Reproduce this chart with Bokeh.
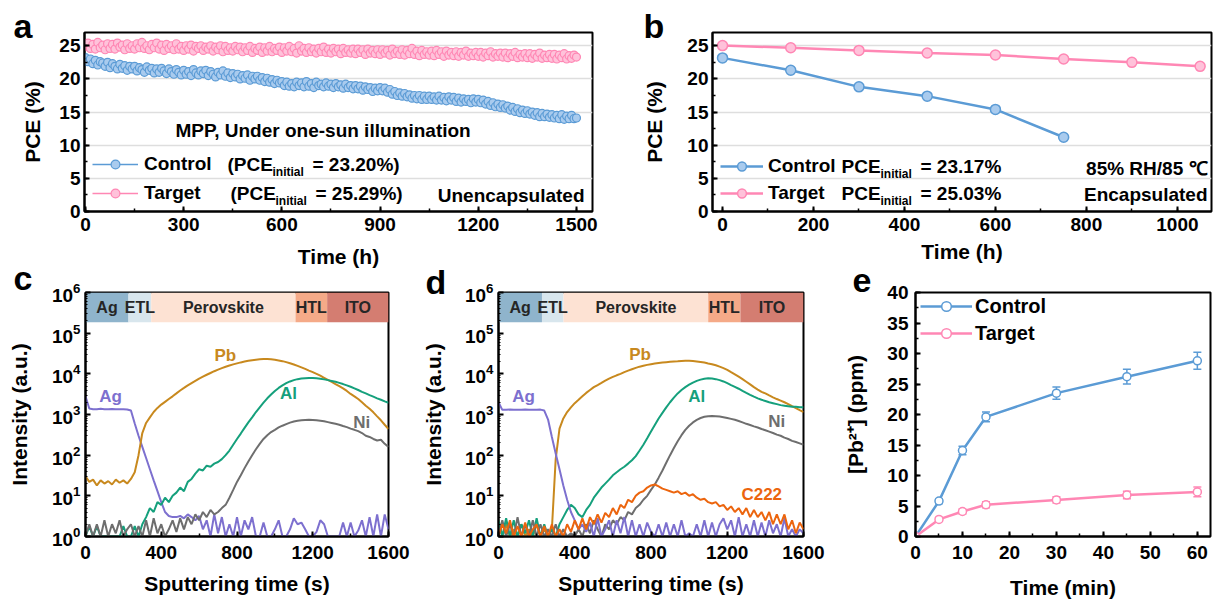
from bokeh.plotting import figure
from bokeh.models import (Range1d, Label, Legend, LegendItem, ColumnDataSource,
                          Whisker, TeeHead, SingleIntervalTicker, GridBox)
from bokeh.layouts import row, column
from bokeh.embed import file_html
from bokeh.resources import INLINE
from bokeh.core.properties import value

FONT = "Liberation Sans"
BLUE = "#5b9bd5"
BLUE_L = "#a9cbee"
PINK = "#ff87b4"
PINK_L = "#ffc2da"

# ---------------- data ----------------
# panel a: MPP tracking (time in h, PCE in %), one reading every 7.5 h
a_time = [i * 7.5 for i in range(201)]
a_control = [23.2, 22.6, 23.0, 22.3, 22.8, 22.1, 22.6, 22.4, 21.9, 22.5,
             21.7, 22.3, 21.9, 21.5, 22.2, 21.6, 22.0, 21.3, 21.9, 21.5,
             21.9, 21.2, 21.7, 21.4, 21.0, 21.8, 21.3, 21.6, 20.9, 21.5,
             21.0, 21.6, 21.2, 20.8, 21.5, 21.1, 20.7, 21.4, 21.0, 20.6,
             21.3, 20.7, 21.1, 20.5, 21.4, 20.9, 20.6, 21.2, 20.8, 21.3,
             20.5, 21.1, 20.7, 20.3, 21.0, 20.6, 21.2, 20.4, 20.9, 20.2,
             20.8, 20.3, 20.7, 20.0, 20.5, 20.1, 20.6, 19.8, 20.4, 20.0,
             20.4, 19.8, 20.2, 19.6, 20.1, 19.5, 19.9, 19.3, 19.8, 19.4,
             19.6, 19.0, 19.5, 18.9, 19.3, 18.8, 19.5, 19.0, 19.4, 18.8,
             19.6, 18.9, 19.3, 18.7, 19.5, 19.0, 19.2, 18.8, 19.4, 18.9,
             19.2, 18.7, 19.3, 18.8, 19.1, 18.6, 19.2, 18.7, 19.0, 18.5,
             19.0, 18.5, 18.9, 18.3, 18.8, 18.4, 18.7, 18.1, 18.6, 18.2,
             18.7, 18.2, 18.6, 18.0, 18.4, 17.7, 18.1, 17.5, 17.9, 17.4,
             17.8, 17.3, 17.6, 17.1, 17.5, 17.0, 17.5, 16.9, 17.4, 16.9,
             17.4, 16.9, 17.3, 16.8, 17.4, 16.8, 17.2, 16.7, 17.3, 16.8,
             17.2, 16.6, 17.1, 16.5, 17.0, 16.6, 16.9, 16.4, 17.0, 16.5,
             16.9, 16.4, 16.8, 16.2, 16.6, 16.0, 16.4, 15.8, 16.2, 15.7,
             16.1, 15.6, 15.9, 15.3, 15.7, 15.1, 15.5, 14.9, 15.3, 14.8,
             15.2, 14.7, 15.0, 14.5, 14.9, 14.3, 14.8, 14.3, 14.7, 14.2,
             14.6, 14.1, 14.5, 14.0, 14.6, 13.9, 14.4, 14.0, 14.5, 14.0,
             14.1]
a_target = [24.9, 25.4, 24.6, 25.2, 24.5, 25.5, 24.7, 25.1, 24.4, 25.3,
            24.6, 25.2, 24.5, 25.4, 24.8, 25.1, 24.4, 25.3, 24.6, 25.0,
            24.5, 25.3, 24.7, 25.5, 24.6, 25.0, 24.4, 25.2, 24.7, 25.4,
            24.5, 25.1, 24.3, 25.2, 24.6, 25.0, 24.4, 25.3, 24.5, 24.9,
            24.3, 25.0, 24.5, 25.1, 24.2, 24.9, 24.6, 25.0, 24.3, 24.8,
            24.5, 25.0, 24.2, 24.8, 24.4, 25.0, 24.1, 24.9, 24.3, 24.7,
            24.2, 24.9, 24.4, 24.8, 24.1, 24.7, 24.3, 24.9, 24.0, 24.6,
            24.3, 24.8, 24.0, 24.7, 24.2, 24.9, 24.1, 24.6, 24.3, 24.8,
            24.0, 24.7, 24.2, 24.9, 24.1, 24.6, 23.9, 25.0, 24.2, 24.6,
            24.0, 24.7, 24.1, 24.5, 23.9, 24.6, 24.1, 24.8, 24.0, 24.5,
            23.9, 24.6, 24.1, 24.5, 23.8, 24.6, 24.0, 24.4, 23.9, 24.5,
            23.8, 24.5, 24.0, 24.4, 23.7, 24.5, 23.9, 24.3, 23.8, 24.4,
            23.7, 24.4, 23.9, 24.3, 23.6, 24.5, 23.8, 24.2, 23.7, 24.4,
            23.6, 24.3, 23.8, 24.6, 23.7, 24.2, 23.5, 24.3, 23.7, 24.1,
            23.6, 24.2, 23.5, 24.3, 23.7, 24.1, 23.4, 24.2, 23.6, 24.0,
            23.5, 24.1, 23.4, 24.0, 23.6, 24.2, 23.4, 23.9, 23.5, 24.0,
            23.4, 24.0, 23.3, 23.9, 23.5, 24.1, 23.3, 23.8, 23.4, 23.9,
            23.3, 23.9, 23.2, 23.8, 23.4, 24.0, 23.2, 23.7, 23.3, 23.8,
            23.2, 23.8, 23.1, 23.7, 23.3, 23.9, 23.1, 23.6, 23.2, 23.7,
            23.1, 23.7, 23.0, 23.6, 23.2, 23.8, 23.0, 23.5, 23.1, 23.6,
            23.3]

# panel b: damp heat (85% RH / 85 C)
b_time_control = [0, 150, 300, 450, 600, 750]
b_control = [23.17, 21.3, 18.8, 17.4, 15.4, 11.2]
b_time_target = [0, 150, 300, 450, 600, 750, 900, 1050]
b_target = [25.03, 24.7, 24.3, 23.9, 23.6, 23.0, 22.5, 21.9]

# panels c, d: ToF-SIMS depth profiles (sputtering time in s)
sims_time = list(range(0, 1601, 20))
layer_names = ["Ag", "ETL", "Perovskite", "HTL", "ITO"]
layer_colors = ["#8fb4cc", "#d8e6ed", "#fde2d3", "#f5aa88", "#d47d71"]
layer_edges_c = [0, 227, 347, 1109, 1276, 1600]
layer_edges_d = [0, 228, 341, 1100, 1269, 1600]

c_Pb = [30, 22, 25, 18, 24, 20, 23, 19, 25, 21,
        24, 20, 26, 38, 100, 350, 620, 850, 1150, 1450,
        1750, 2050, 2400, 2800, 3300, 3900, 4500, 5200, 5900, 6700,
        7600, 8500, 9500, 10500, 11600, 12700, 13800, 14900, 16000, 17100,
        18100, 19100, 20000, 20900, 21700, 22300, 22800, 23100, 23100, 22800,
        22200, 21400, 20500, 19400, 18200, 17000, 15700, 14400, 13200, 12000,
        11000, 10000, 9000, 8000, 7100, 6300, 5600, 5000, 4400, 3800,
        3200, 2800, 2400, 2000, 1650, 1380, 1130, 900, 720, 560,
        440]
c_Ag = [2800, 1400, 1350, 1350, 1380, 1350, 1350, 1360, 1350, 1340,
        1350, 1330, 1250, 600, 300, 160, 85, 45, 24, 13,
        7, 4, 3.2, 3, 3, 3.2, 2.8, 3.5, 3, 2.5,
        3.2, 1.5, 2.5, 1, 3.5, 1.2, 3, 1, 2, 1,
        3, 1, 2.5, 1.5, 3, 1, 1, 2.2, 1, 1,
        1.5, 2.5, 1, 1, 1.5, 2.8, 2, 2.2, 1.5, 1,
        1, 1.3, 2.5, 2, 1, 1, 1, 1, 2.2, 1,
        2.2, 1, 1.4, 2.5, 1, 3, 1, 3.5, 1, 3.5,
        1.5]
c_Al = [1, 1.8, 1, 1.8, 1, 1, 1, 1, 1, 1,
        1.8, 1, 1, 1.8, 1, 2, 3, 5, 4, 7,
        6, 9, 7, 10, 12, 16, 13, 22, 26, 35,
        45, 42, 55, 52, 62, 68, 80, 100, 130, 180,
        250, 340, 470, 640, 850, 1150, 1500, 1950, 2500, 3100,
        3800, 4500, 5200, 5900, 6500, 7000, 7400, 7700, 7800, 7900,
        7900, 7800, 7600, 7300, 7000, 6700, 6400, 6000, 5600, 5200,
        4800, 4400, 4000, 3600, 3300, 3000, 2750, 2500, 2300, 2100,
        1950]
c_Ni = [1, 2, 1, 2, 1, 2.5, 1, 2, 1.2, 2.5,
        1, 1.5, 2, 1, 1.8, 1, 2.5, 1, 2.8, 1.2,
        2, 1, 1.5, 2.5, 1.3, 2.8, 1.5, 3, 2, 3.5,
        2.5, 4, 3, 4.5, 3.5, 4, 5, 6, 9, 14,
        22, 32, 48, 70, 100, 140, 190, 250, 310, 370,
        420, 480, 530, 580, 630, 670, 700, 720, 730, 740,
        730, 720, 700, 680, 650, 620, 590, 560, 520, 490,
        450, 420, 390, 350, 300, 280, 250, 230, 240, 190,
        160]

d_Pb = [2.5, 1, 2, 1, 1.5, 1, 2, 1, 1.5, 1,
        2, 1, 1.5, 1, 1.5, 80, 450, 800, 1150, 1500,
        1900, 2300, 2800, 3400, 4000, 4700, 5300, 6000, 6800, 7600,
        8400, 9200, 10000, 11000, 12000, 13000, 14000, 15000, 15800, 16600,
        17300, 17900, 18400, 18900, 19300, 19700, 20100, 20400, 20800, 21000,
        21000, 20700, 20200, 19600, 18900, 18000, 17200, 16200, 15000, 13800,
        12500, 11000, 9700, 8500, 7400, 6400, 5500, 4700, 4100, 3600,
        3300, 2950, 2650, 2400, 2200, 2000, 1800, 1600, 1430, 1280,
        1150]
d_Ag = [2000, 1300, 1300, 1320, 1300, 1310, 1300, 1320, 1300, 1310,
        1300, 1320, 1250, 750, 280, 110, 45, 18, 8, 4,
        2.5, 1.5, 2, 1.3, 2.2, 1, 2.8, 1, 1.5, 2.5,
        1, 2.5, 1.2, 3, 1, 2.5, 1, 2, 1, 2.2,
        1.3, 1, 2, 1, 2.2, 1, 2, 1, 2.5, 1,
        1.2, 1, 2, 1, 2.5, 1, 2.2, 1, 2, 2.8,
        1.5, 2.5, 1, 3, 1, 2, 1, 2.5, 1, 2.2,
        1, 2.5, 1.2, 2, 1, 2.8, 1, 1.5, 1, 1.5,
        1.2]
d_Al = [2.5, 1, 2.8, 1, 2.5, 1, 2, 1.2, 2.5, 1,
        2.8, 1, 2, 1, 1.5, 1, 2, 3, 4.5, 6,
        5, 3.5, 3, 4.5, 6, 9, 12, 16, 20, 25,
        32, 38, 45, 52, 62, 75, 95, 130, 180, 260,
        380, 550, 800, 1100, 1500, 2000, 2600, 3300, 4000, 4700,
        5400, 6100, 6700, 7200, 7600, 7800, 7700, 7400, 7000, 6500,
        5900, 5300, 4800, 4300, 3800, 3400, 3050, 2750, 2500, 2300,
        2150, 2000, 1900, 1800, 1700, 1650, 1600, 1550, 1550, 1500,
        1500]
d_Ni = [1, 2.5, 1, 2, 1, 3, 1, 2, 1, 2.5,
        1, 2, 1, 1.5, 1, 2, 1, 1.5, 1, 1.2,
        1, 1.5, 1, 2, 1.2, 2.5, 1.5, 1, 2, 1.5,
        2.5, 2, 3, 2.5, 4, 3.5, 5, 6, 8, 10,
        14, 19, 28, 42, 65, 100, 150, 220, 310, 420,
        530, 640, 740, 820, 880, 910, 920, 910, 890, 860,
        820, 780, 740, 690, 640, 590, 550, 510, 480, 440,
        410, 380, 350, 320, 300, 270, 250, 225, 210, 195,
        180]
d_C222 = [1, 2, 1.2, 2.5, 1, 1.8, 1, 2.2, 1, 1.5,
          2, 1, 1.8, 1, 2, 1, 1.5, 1, 2, 1.3,
          2.5, 1.5, 2.8, 1.5, 3, 2, 3.5, 2.2, 3.8, 3,
          5, 3.5, 6, 5, 8, 7, 10, 12, 13, 16,
          18, 19, 17, 15, 14, 13, 12, 13, 11, 12,
          10, 11, 9, 8, 8.5, 7, 6.5, 7, 5.5, 6,
          4.5, 5.5, 4, 5, 3.5, 5, 3, 4.5, 3, 4,
          2.5, 4, 2, 3.5, 2, 3.5, 1.5, 2.5, 1.2, 2.2,
          1.5]

# panel e: Pb2+ leakage
e_time = [0, 5, 10, 15, 30, 45, 60]
e_control = [0, 5.8, 14.1, 19.6, 23.5, 26.2, 28.8]
e_control_err = [0, 0.4, 0.7, 0.8, 1.0, 1.2, 1.4]
e_target = [0, 2.8, 4.1, 5.2, 6.0, 6.8, 7.3]
e_target_err = [0, 0.3, 0.4, 0.5, 0.5, 0.6, 0.8]

# panel letters
panel_letters = ["a", "b", "c", "d", "e"]

# element colours
C_PB = "#c8891e"
C_AG = "#7d70cf"
C_AL = "#15a07c"
C_NI = "#6e6e6e"
C_C222 = "#ec650e"


# ---------------- helpers ----------------
def make_fig(width, height, mbl, mbr, mbt, mbb, xr, yr, xlabel, ylabel, log=False):
    p = figure(width=width, height=height, x_range=xr, y_range=yr,
               y_axis_type="log" if log else "linear",
               output_backend="svg", toolbar_location=None,
               min_border_left=mbl, min_border_right=mbr,
               min_border_top=mbt, min_border_bottom=mbb,
               x_axis_label=xlabel, y_axis_label=ylabel)
    p.title.visible = False
    p.outline_line_color = "black"
    p.outline_line_width = 2
    p.outline_line_alpha = 1
    p.background_fill_color = "white"
    p.border_fill_color = "white"
    p.xgrid.visible = False
    p.ygrid.visible = False
    for ax in p.axis:
        ax.axis_line_width = 2
        ax.axis_line_color = "black"
        ax.major_tick_in = 5
        ax.major_tick_out = 0
        ax.minor_tick_in = 3
        ax.minor_tick_out = 0
        ax.major_tick_line_width = 2
        ax.minor_tick_line_width = 1.5
        ax.major_tick_line_color = "black"
        ax.minor_tick_line_color = "black"
        ax.major_label_text_font = FONT
        ax.major_label_text_font_style = "bold"
        ax.major_label_text_font_size = "19px"
        ax.major_label_text_color = "black"
        ax.axis_label_text_font = FONT
        ax.axis_label_text_font_style = "bold"
        ax.axis_label_text_font_size = "21px"
        ax.axis_label_text_color = "black"
    return p


def lab(p, x, y, text, size="19px", color="black", align="left", baseline="middle"):
    p.add_layout(Label(x=x, y=y, x_units="screen", y_units="screen", text=text,
                       text_font=FONT, text_font_size=size, text_font_style="bold",
                       text_color=color, text_align=align, text_baseline=baseline))


def legend(p, items, loc, glyph_w, standoff, spacing, gh, size="19px"):
    lg = Legend(items=items, location=loc, padding=0, margin=0, spacing=spacing,
                glyph_width=glyph_w, glyph_height=gh, label_height=gh,
                label_standoff=standoff, border_line_alpha=0,
                background_fill_alpha=0, label_text_font=FONT,
                label_text_font_style="bold", label_text_font_size=size,
                label_text_color="black")
    p.add_layout(lg)


# ---------------- panel a ----------------
pa = make_fig(640, 270, 84, 48, 32, 57, Range1d(-3, 1549), Range1d(0, 27),
              "Time (h)", "PCE (%)")
pa.xaxis.ticker = SingleIntervalTicker(interval=300, num_minor_ticks=2)
pa.yaxis.ticker = SingleIntervalTicker(interval=5, num_minor_ticks=2)
pa.ygrid.visible = True
pa.ygrid.grid_line_color = "#dedede"
pa.ygrid.grid_line_width = 1.5
pa.xaxis.major_label_standoff = 6
pa.xaxis.axis_label_standoff = 11
pa.yaxis.major_label_standoff = 4
pa.yaxis.axis_label_standoff = 12

ac_l = pa.line(a_time, a_control, line_color=BLUE, line_width=1.5)
ac_s = pa.scatter(a_time, a_control, marker="circle", size=8, fill_color=BLUE_L,
                  line_color=BLUE, line_width=1.2)
at_l = pa.line(a_time, a_target, line_color=PINK, line_width=1.5)
at_s = pa.scatter(a_time, a_target, marker="circle", size=8, fill_color=PINK_L,
                  line_color=PINK, line_width=1.2)
legend(pa, [LegendItem(label="Control", renderers=[ac_l, ac_s]),
            LegendItem(label="Target", renderers=[at_l, at_s])],
       (8, 7), 46, 6, 7, 22)
lab(pa, 91, 81, "MPP, Under one-sun illumination")
lab(pa, 500, 16, "Unencapsulated", align="right")
lab(pa, 143, 47, "(PCE")
lab(pa, 188, 40, "initial", size="12px")
lab(pa, 228, 47, "= 23.20%)")
lab(pa, 146, 18, "(PCE")
lab(pa, 191, 11, "initial", size="12px")
lab(pa, 231, 18, "= 25.29%)")

# ---------------- panel b ----------------
pb = make_fig(574, 270, 72, 3, 32, 57, Range1d(-22, 1075), Range1d(0, 27),
              "Time (h)", "PCE (%)")
pb.xaxis.ticker = SingleIntervalTicker(interval=200, num_minor_ticks=2)
pb.yaxis.ticker = SingleIntervalTicker(interval=5, num_minor_ticks=2)
pb.ygrid.visible = True
pb.ygrid.grid_line_color = "#dedede"
pb.ygrid.grid_line_width = 1.5
pb.xaxis.major_label_standoff = 6
pb.xaxis.axis_label_standoff = 6
pb.yaxis.major_label_standoff = 4
pb.yaxis.axis_label_standoff = 18

bc_l = pb.line(b_time_control, b_control, line_color=BLUE, line_width=2.5)
bc_s = pb.scatter(b_time_control, b_control, marker="circle", size=10,
                  fill_color=BLUE_L, line_color=BLUE, line_width=1.5)
bt_l = pb.line(b_time_target, b_target, line_color=PINK, line_width=2.5)
bt_s = pb.scatter(b_time_target, b_target, marker="circle", size=10,
                  fill_color=PINK_L, line_color=PINK, line_width=1.5)
legend(pb, [LegendItem(label="Control", renderers=[bc_l, bc_s]),
            LegendItem(label="Target", renderers=[bt_l, bt_s])],
       (8, 7), 43, 5, 5, 22)
lab(pb, 129, 45, "PCE")
lab(pb, 168, 38, "initial", size="12px")
lab(pb, 208, 45, "= 23.17%")
lab(pb, 129, 18, "PCE")
lab(pb, 168, 11, "initial", size="12px")
lab(pb, 208, 18, "= 25.03%")
lab(pb, 495, 43, "85% RH/85 \u2103", align="right")
lab(pb, 495, 17, "Encapsulated", align="right")


# ---------------- panels c, d ----------------
def sims_panel(width, mbl, mbr, edges, curves, labels, title_standoff):
    p = make_fig(width, 332, mbl, mbr, 22, 66, Range1d(0, 1600), Range1d(1, 1e6),
                 "Sputtering time (s)", "Intensity (a.u.)", log=True)
    p.xaxis.ticker = SingleIntervalTicker(interval=400, num_minor_ticks=2)
    p.xaxis.major_label_standoff = 9
    p.xaxis.axis_label_standoff = 10
    p.yaxis.major_label_standoff = 5
    p.yaxis.axis_label_standoff = title_standoff
    p.yaxis.minor_tick_in = 2
    p.yaxis.minor_tick_line_width = 1
    src = ColumnDataSource(dict(left=edges[:-1], right=edges[1:], color=layer_colors,
                                name=layer_names,
                                mid=[(a + b) / 2 for a, b in zip(edges[:-1], edges[1:])]))
    p.quad(left="left", right="right", bottom=10 ** 5.27, top=1e6, fill_color="color",
           line_alpha=0, source=src)
    p.text(x="mid", y=10 ** 5.63, text="name", source=src, text_font=value(FONT),
           text_font_style="bold", text_font_size=value("16px"), text_color="#262626",
           text_align="center", text_baseline="middle")
    for ys, col in curves:
        p.line(sims_time, ys, line_color=col, line_width=2)
    for (tx, ty, t, col) in labels:
        p.text(x=[tx], y=[ty], text=[t], text_font=value(FONT), text_font_style="bold",
               text_font_size=value("17px"), text_color=col, text_align="center",
               text_baseline="middle")
    return p


pc = sims_panel(414, 85, 26, layer_edges_c,
                [(c_Ag, C_AG), (c_Pb, C_PB), (c_Al, C_AL), (c_Ni, C_NI)],
                [(738, 10 ** 4.46, "Pb", C_PB), (132, 10 ** 3.45, "Ag", C_AG),
                 (1072, 10 ** 3.51, "Al", C_AL), (1459, 10 ** 2.81, "Ni", C_NI)], 18)
pd_ = sims_panel(416, 84, 27, layer_edges_d,
                 [(d_Pb, C_PB), (d_Al, C_AL), (d_Ni, C_NI), (d_Ag, C_AG), (d_C222, C_C222)],
                 [(743, 10 ** 4.47, "Pb", C_PB), (131, 10 ** 3.45, "Ag", C_AG),
                  (1040, 10 ** 3.45, "Al", C_AL), (1460, 10 ** 2.83, "Ni", C_NI),
                  (1381, 10 ** 1.03, "C222", C_C222)], 17)

# ---------------- panel e ----------------
pe = make_fig(384, 332, 85, 4, 19, 66, Range1d(0, 62.8), Range1d(0, 40),
              "Time (min)", "[Pb\u00b2\u207a] (ppm)")
pe.xaxis.ticker = SingleIntervalTicker(interval=10, num_minor_ticks=2)
pe.yaxis.ticker = SingleIntervalTicker(interval=5, num_minor_ticks=2)
pe.xaxis.major_label_standoff = 9
pe.xaxis.axis_label_standoff = 14
pe.yaxis.major_label_standoff = 7
pe.yaxis.axis_label_standoff = 17

for vals, errs, col in [(e_control, e_control_err, BLUE), (e_target, e_target_err, PINK)]:
    src = ColumnDataSource(dict(x=e_time, y=vals,
                                upper=[v + e for v, e in zip(vals, errs)],
                                lower=[v - e for v, e in zip(vals, errs)]))
    pe.add_layout(Whisker(source=src, base="x", upper="upper", lower="lower",
                          dimension="height", line_color=col, line_width=1.5,
                          upper_head=TeeHead(size=8, line_color=col, line_width=1.5),
                          lower_head=TeeHead(size=8, line_color=col, line_width=1.5)))
l = pe.line(e_time, e_control, line_color=BLUE, line_width=2.5)
s = pe.scatter(e_time, e_control, marker="circle", size=8, fill_color="white",
               line_color=BLUE, line_width=1.5)
l2 = pe.line(e_time, e_target, line_color=PINK, line_width=2.5)
s2 = pe.scatter(e_time, e_target, marker="circle", size=8, fill_color="white",
                line_color=PINK, line_width=1.5)
legend(pe, [LegendItem(label="Control", renderers=[l, s]),
            LegendItem(label="Target", renderers=[l2, s2])],
       (5, 191), 52, 3, 3, 24, size="20px")

# ---------------- transparent overlay carrying the panel letters ----------------
ov = figure(width=1214, height=602, x_range=Range1d(0, 1214), y_range=Range1d(602, 0),
            output_backend="svg", toolbar_location=None,
            x_axis_location=None, y_axis_location=None,
            min_border=0, min_border_left=0, min_border_right=0,
            min_border_top=0, min_border_bottom=0)
ov.title.visible = False
ov.outline_line_color = None
ov.background_fill_alpha = 0
ov.border_fill_alpha = 0
ov.xgrid.visible = False
ov.ygrid.visible = False
# vertical centres of the letters (baseline minus ~0.35 em)
letter_pos = [(13, 25), (643, 25), (13, 277), (425, 281), (852, 280)]
for t, (x, y) in zip(panel_letters, letter_pos):
    ov.add_layout(Label(x=x, y=y, text=t, text_font=FONT, text_font_size="34px",
                        text_font_style="bold", text_color="black",
                        text_align="left", text_baseline="middle"))

inner = column(row(pa, pb), row(pc, pd_, pe))
root = GridBox(children=[(inner, 0, 0), (ov, 0, 0)])
open("out.html", "w").write(file_html(root, INLINE, "Figure"))
